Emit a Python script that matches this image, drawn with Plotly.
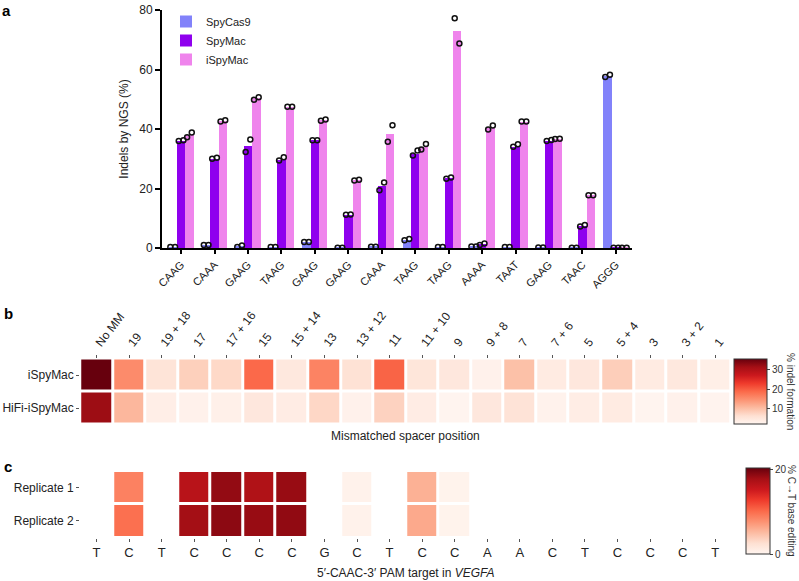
import plotly.graph_objects as go

W, H = 799, 581
FONT = "Liberation Sans, Arial, Helvetica, sans-serif"

# ---------------- Panel a data ----------------
pam_labels = ["CAAG", "CAAA", "GAAG", "TAAG", "GAAG", "GAAG", "CAAA",
              "TAAG", "TAAG", "AAAA", "TAAT", "GAAG", "TAAC", "AGGG"]
series_names = ["SpyCas9", "SpyMac", "iSpyMac"]
series_colors = ["#8282fa", "#8f00ee", "#ef84ec"]
spycas9_mean = [0.3, 1.0, 0.5, 0.3, 2.0, 0.1, 0.4, 2.8, 0.3, 0.5, 0.3, 0.2, 0.1, 57.8]
spymac_mean = [36.1, 30.0, 34.3, 29.6, 36.3, 11.2, 20.7, 31.7, 23.5, 1.2, 34.1, 36.1, 7.3, 0.1]
ispymac_mean = [38.0, 42.7, 50.3, 47.5, 43.0, 22.8, 38.4, 34.1, 73.0, 40.3, 42.5, 36.6, 17.7, 0.1]
spycas9_rep = [(0.3, 0.3), (1.0, 1.0), (0.3, 0.8), (0.3, 0.3), (2.0, 2.0), (0.1, 0.1), (0.4, 0.4),
               (2.6, 3.0), (0.3, 0.3), (0.5, 0.5), (0.3, 0.3), (0.2, 0.2), (0.1, 0.1), (57.5, 58.2)]
spymac_rep = [(36.0, 36.2), (30.0, 30.3), (32.3, 36.5), (29.4, 30.5), (36.2, 36.2), (11.2, 11.3),
              (19.4, 22.0), (31.1, 32.8), (23.3, 23.7), (1.0, 1.5), (34.0, 34.9), (36.0, 36.3),
              (7.2, 7.7), (0.1, 0.1)]
ispymac_rep = [(37.2, 38.8), (42.5, 42.9), (49.8, 50.7), (47.5, 47.5), (42.8, 43.2), (22.7, 22.9),
               (35.7, 41.3), (33.1, 35.0), (77.2, 68.7), (39.8, 41.2), (42.5, 42.5), (36.6, 36.7),
               (17.7, 17.7), (0.1, 0.1)]

# ---------------- Panel b data ----------------
mm_labels = ["No MM", "19", "19 + 18", "17", "17 + 16", "15", "15 + 14", "13", "13 + 12",
             "11", "11 + 10", "9", "9 + 8", "7", "7 + 6", "5", "5 + 4", "3", "3 + 2", "1"]
mm_rows = ["iSpyMac", "HiFi-iSpyMac"]
mm_ispymac = [35.6, 15.5, 5.6, 8.3, 7.3, 19.0, 4.8, 16.3, 6.0, 19.5,
              5.3, 5.0, 3.0, 10.0, 4.3, 5.0, 8.5, 4.2, 4.8, 3.5]
mm_hifi = [32.0, 11.0, 3.6, 3.0, 3.3, 5.0, 4.0, 7.5, 3.0, 8.0,
           4.0, 2.5, 5.0, 5.8, 2.8, 3.8, 4.3, 2.4, 3.0, 2.6]

# ---------------- Panel c data ----------------
seq_labels = ["T", "C", "T", "C", "C", "C", "C", "G", "C", "T",
              "C", "C", "A", "A", "C", "T", "C", "C", "C", "T"]
rep_rows = ["Replicate 1", "Replicate 2"]
rep1 = [None, 8.7, None, 16.5, 18.5, 17.0, 18.3, None, 0.4, None,
        5.7, 0.3, None, None, None, None, None, None, None, None]
rep2 = [None, 9.8, None, 17.8, 18.8, 18.3, 18.6, None, 0.4, None,
        6.2, 0.3, None, None, None, None, None, None, None, None]


def px_x(p):
    return p / W


def px_y(p):
    return 1 - p / H


fig = go.Figure()

# ---- panel a bars + dots ----
offsets = [-0.25, 0.0, 0.25]
means = [spycas9_mean, spymac_mean, ispymac_mean]
reps = [spycas9_rep, spymac_rep, ispymac_rep]
idx = list(range(len(pam_labels)))
for k in range(3):
    fig.add_trace(go.Bar(
        x=[i + offsets[k] for i in idx], y=means[k], width=0.25,
        marker=dict(color=series_colors[k], line=dict(width=0)),
        name=series_names[k], xaxis="x", yaxis="y"))
for k in range(3):
    xs, ys = [], []
    for i in idx:
        a, b = reps[k][i]
        xs += [i + offsets[k] - 0.07, i + offsets[k] + 0.07]
        ys += [a, b]
    fig.add_trace(go.Scatter(
        x=xs, y=ys, mode="markers", showlegend=False, xaxis="x", yaxis="y",
        marker=dict(symbol="circle-open", size=5, color="#111111", line=dict(width=1.5))))

# ---- panel b heatmap ----
fig.add_trace(go.Heatmap(
    z=[mm_ispymac, mm_hifi], x=list(range(len(mm_labels))), y=[0, 1],
    colorscale="Reds", zmin=2.3, zmax=35.6, xgap=3, ygap=3,
    xaxis="x2", yaxis="y2",
    colorbar=dict(x=px_x(734), xanchor="left", y=px_y(359), yanchor="top",
                  thickness=33, thicknessmode="pixels", len=65, lenmode="pixels",
                  outlinewidth=1, outlinecolor="#333333",
                  tickvals=[10, 20, 30], ticks="outside", ticklen=3,
                  tickfont=dict(size=10, family=FONT, color="#333333"), xpad=0, ypad=0)))

# ---- panel c heatmap ----
fig.add_trace(go.Heatmap(
    z=[rep1, rep2], x=list(range(len(seq_labels))), y=[0, 1],
    colorscale="Reds", zmin=0, zmax=20.3, xgap=3, ygap=3,
    xaxis="x3", yaxis="y3", hoverongaps=False,
    colorbar=dict(x=px_x(746), xanchor="left", y=px_y(468), yanchor="top",
                  thickness=24, thicknessmode="pixels", len=86, lenmode="pixels",
                  outlinewidth=1, outlinecolor="#333333",
                  tickvals=[0, 20], ticks="outside", ticklen=3,
                  tickfont=dict(size=10, family=FONT, color="#333333"), xpad=0, ypad=0)))

fig.update_layout(
    width=W, height=H, margin=dict(l=0, r=0, t=0, b=0, autoexpand=False),
    paper_bgcolor="white", plot_bgcolor="white",
    font=dict(family=FONT, size=11, color="#222222"),
    bargap=0,
    legend=dict(x=px_x(166), y=px_y(7), xanchor="left", yanchor="top",
                bgcolor="rgba(0,0,0,0)", font=dict(size=11), tracegroupgap=0),
    xaxis=dict(domain=[px_x(162), px_x(632)], range=[-0.57, 13.48],
               tickvals=idx, ticktext=pam_labels, tickangle=-45,
               showline=True, linecolor="black", linewidth=2, ticks="outside",
               ticklen=4, tickwidth=2, tickcolor="black", showgrid=False, zeroline=False,
               tickfont=dict(size=11, color="#222222"), anchor="y", automargin=False),
    yaxis=dict(domain=[px_y(248), px_y(10)], range=[0, 80], tickvals=[0, 20, 40, 60, 80],
               showline=True, linecolor="black", linewidth=2, ticks="outside",
               ticklen=5, tickwidth=2, tickcolor="black", showgrid=False, zeroline=False,
               title=dict(text="Indels by NGS (%)", font=dict(size=12), standoff=8),
               tickfont=dict(size=12, color="#222222"), anchor="x", automargin=False),
    xaxis2=dict(domain=[px_x(80.2), px_x(731.5)], range=[-0.5, 19.5], side="top",
                tickvals=list(range(len(mm_labels))), ticktext=mm_labels, tickangle=-52,
                ticks="outside", ticklen=3, tickcolor="#555555", showgrid=False,
                zeroline=False, showline=False, tickfont=dict(size=12), anchor="y2",
                automargin=False),
    yaxis2=dict(domain=[px_y(424.5), px_y(358.5)], range=[1.5, -0.5],
                tickvals=[0, 1], ticktext=mm_rows, ticks="outside", ticklen=3,
                tickcolor="#555555", showgrid=False, zeroline=False, showline=False,
                tickfont=dict(size=12), anchor="x2", automargin=False),
    xaxis3=dict(domain=[px_x(80.2), px_x(731.5)], range=[-0.5, 19.5],
                tickvals=list(range(len(seq_labels))), ticktext=seq_labels,
                ticks="outside", ticklen=3, tickcolor="#555555", showgrid=False,
                zeroline=False, showline=False, tickfont=dict(size=13), anchor="y3",
                automargin=False),
    yaxis3=dict(domain=[px_y(537.5), px_y(471)], range=[1.5, -0.5],
                tickvals=[0, 1], ticktext=rep_rows, ticks="outside", ticklen=3,
                tickcolor="#555555", showgrid=False, zeroline=False, showline=False,
                tickfont=dict(size=12), anchor="x3", automargin=False),
)

ann = [
    dict(text="<b>a</b>", x=0, y=px_y(0), xanchor="left", yanchor="top", font=dict(size=15, color="black")),
    dict(text="<b>b</b>", x=px_x(2), y=px_y(303), xanchor="left", yanchor="top", font=dict(size=15, color="black")),
    dict(text="<b>c</b>", x=px_x(2), y=px_y(456), xanchor="left", yanchor="top", font=dict(size=15, color="black")),
    dict(text="Mismatched spacer position", x=px_x(405), y=px_y(436), xanchor="center", yanchor="middle",
         font=dict(size=12, color="#222222")),
    dict(text="5′-CAAC-3′ PAM target in <i>VEGFA</i>", x=px_x(405), y=px_y(573), xanchor="center",
         yanchor="middle", font=dict(size=12, color="#222222")),
    dict(text="% indel formation", x=px_x(791), y=px_y(391), xanchor="center", yanchor="middle",
         textangle=90, font=dict(size=10, color="#333333")),
    dict(text="% C→T base editing", x=px_x(791), y=px_y(511), xanchor="center", yanchor="middle",
         textangle=90, font=dict(size=10, color="#333333")),
]
for a in ann:
    a.update(xref="paper", yref="paper", showarrow=False)
fig.update_layout(annotations=ann)

fig.write_html("out.html", config={"displayModeBar": False},
               post_script="document.body.style.margin='0';")
